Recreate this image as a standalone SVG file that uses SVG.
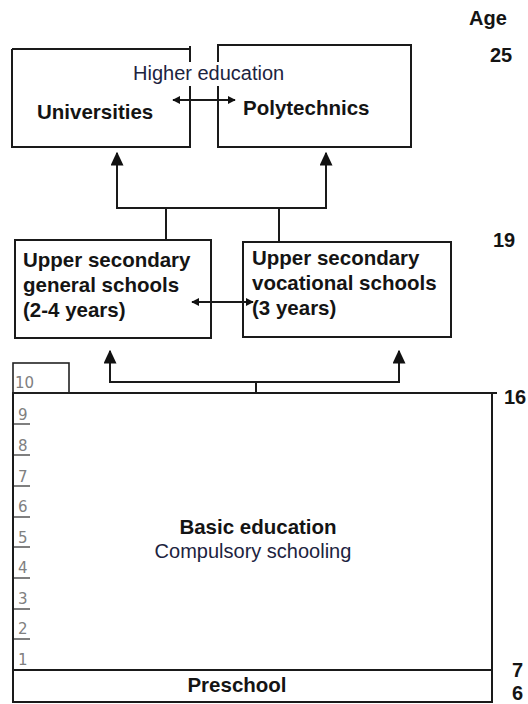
<svg xmlns="http://www.w3.org/2000/svg" width="528" height="704" viewBox="0 0 528 704">
<style>
.ln{stroke:#1a1a1a;stroke-width:2;fill:none}
.thin{stroke:#222;stroke-width:1.6;fill:none}
.b{font-family:"Liberation Sans",Arial,sans-serif;font-weight:bold;font-size:20.5px;fill:#141414}
.r{font-family:"Liberation Sans",Arial,sans-serif;font-size:20px;fill:#1c2340}
.g{font-family:"DejaVu Sans",Verdana,sans-serif;font-size:15px;fill:#808080}
.age{font-family:"Liberation Sans",Arial,sans-serif;font-weight:bold;font-size:20px;fill:#141414}
.ul{stroke:#555;stroke-width:1.3}
</style>
<defs>
<marker id="sm" viewBox="0 0 10 10" refX="9" refY="5" markerWidth="8" markerHeight="8" markerUnits="userSpaceOnUse" orient="auto-start-reverse">
<path d="M0,0 L10,5 L0,10 z" fill="#111"/>
</marker>
<marker id="big" viewBox="0 0 10 10" refX="9" refY="5" markerWidth="14" markerHeight="13" markerUnits="userSpaceOnUse" orient="auto" preserveAspectRatio="none">
<path d="M0,0 L10,5 L0,10 z" fill="#111"/>
</marker>
</defs>
<rect width="528" height="704" fill="#fff"/>

<g id="universities">
<path class="ln" d="M190,62 V46 M12,49 H190 M12,49 V147 H190 V86"/>
<text class="b" x="37" y="119">Universities</text>
</g>
<g id="polytechnics">
<path class="ln" d="M218,62 V45 H411 V147 H218 V86"/>
<text class="b" x="243" y="115">Polytechnics</text>
</g>
<text class="r" x="133" y="80">Higher education</text>

<g id="upper-general">
<rect class="ln" x="15" y="240" width="196" height="98"/>
<text class="b" x="23" y="267">Upper secondary</text>
<text class="b" x="23" y="292">general schools</text>
<text class="b" x="23" y="317">(2-4 years)</text>
</g>
<g id="upper-vocational">
<rect class="ln" x="243" y="242" width="208" height="95"/>
<text class="b" x="252" y="265">Upper secondary</text>
<text class="b" x="252" y="290">vocational schools</text>
<text class="b" x="252" y="315">(3 years)</text>
</g>

<g id="basic-education">
<path class="ln" d="M12,393 H497 M13,393 V702 H492 V393"/>
<rect class="thin" x="13" y="363" width="56" height="30"/>
<text class="g" x="15" y="388">10</text>
<text class="g" x="18" y="420">9</text>
<text class="g" x="18" y="451">8</text>
<text class="g" x="18" y="482">7</text>
<text class="g" x="18" y="512">6</text>
<text class="g" x="18" y="543">5</text>
<text class="g" x="18" y="573">4</text>
<text class="g" x="18" y="604">3</text>
<text class="g" x="18" y="634">2</text>
<text class="g" x="18" y="665">1</text>
<path class="ul" d="M14,424 H30 M14,455 H30 M14,486 H30 M14,517 H30 M14,547 H30 M14,578 H30 M14,609 H30 M14,639 H30"/>
<text class="b" x="258" y="534" text-anchor="middle">Basic education</text>
<text class="r" x="253" y="558" text-anchor="middle">Compulsory schooling</text>
</g>
<g id="preschool">
<path class="ln" d="M13,670 H493"/>
<text class="b" x="237" y="692" text-anchor="middle">Preschool</text>
</g>

<g id="connectors">
<path class="ln" d="M173,100 H235" marker-start="url(#sm)" marker-end="url(#sm)"/>
<path class="ln" d="M192,302 H253" marker-start="url(#sm)" marker-end="url(#sm)"/>
<path class="ln" d="M166,240 V208 M279,242 V208"/>
<path class="ln" d="M117,208 H326"/>
<path class="ln" d="M117,209 V153" marker-end="url(#big)"/>
<path class="ln" d="M326,209 V153" marker-end="url(#big)"/>
<path class="ln" d="M256,393 V382 M110,382 H399"/>
<path class="ln" d="M110,383 V351" marker-end="url(#big)"/>
<path class="ln" d="M399,383 V351" marker-end="url(#big)"/>
</g>

<g id="ages">
<text class="age" x="469" y="25">Age</text>
<text class="age" x="490" y="62">25</text>
<text class="age" x="493" y="247">19</text>
<text class="age" x="504" y="404">16</text>
<text class="age" x="512" y="677">7</text>
<text class="age" x="512" y="700">6</text>
</g>
</svg>
